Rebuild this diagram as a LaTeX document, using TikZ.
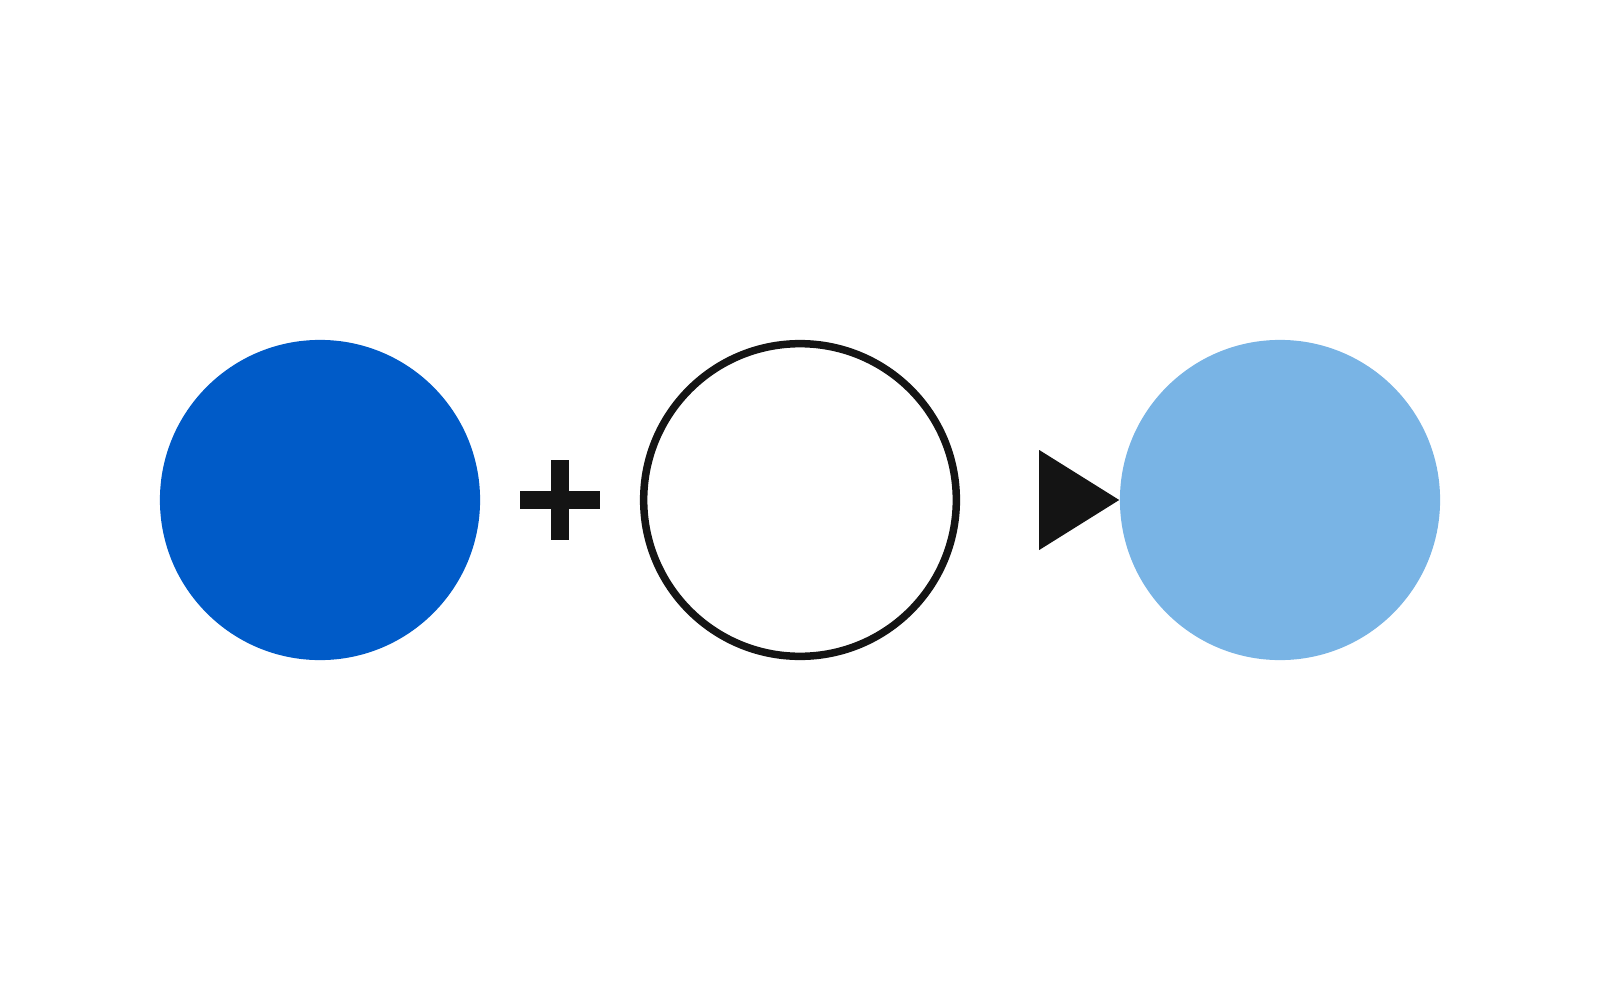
\documentclass[tikz,border=0pt]{standalone}
\usepackage{tikz}
\usetikzlibrary{calc}

\definecolor{deepblue}{HTML}{005BC8}
\definecolor{paleblue}{HTML}{79B4E5}
\definecolor{ink}{HTML}{141414}

\tikzset{
    ball/.style={circle, inner sep=0pt, minimum size=3.2cm},
    ring/.style={circle, inner sep=0pt, minimum size=3.125cm, draw=ink, line width=0.075cm}
}

\begin{document}
\begin{tikzpicture}[x=0.01cm, y=-0.01cm]
    \useasboundingbox (0,0) rectangle (1600,1000);
    \node[ball, fill=deepblue] (reactant) at (320,500) {};
    \coordinate (plus) at (560,500);
    \node[ring] (empty) at (800,500) {};
    \node[ball, fill=paleblue] (product) at (1280,500) {};
    % plus sign
    \fill[ink] ($(plus)+(-40,-9)$) rectangle ($(plus)+(40,9)$);
    \fill[ink] ($(plus)+(-9,-40)$) rectangle ($(plus)+(9,40)$);
    % arrow head
    \fill[ink] ($(product.west)+(-80,-50)$) -- (product.west) -- ($(product.west)+(-80,50)$) -- cycle;
\end{tikzpicture}
\end{document}
